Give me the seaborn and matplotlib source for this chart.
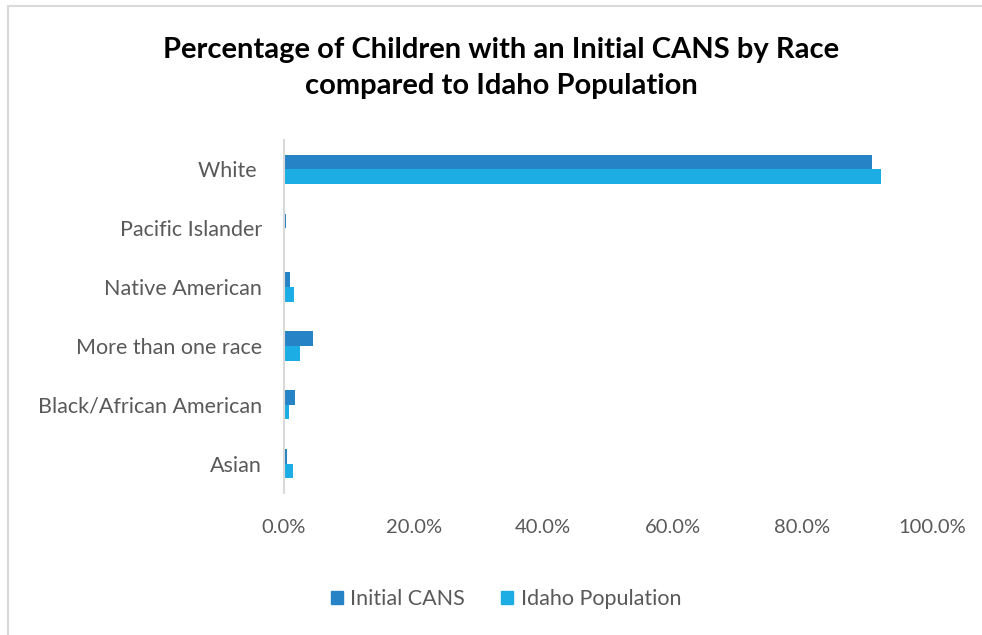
import matplotlib
matplotlib.use("Agg")
import matplotlib.pyplot as plt
import seaborn as sns
import pandas as pd
from matplotlib.ticker import PercentFormatter
from matplotlib.lines import Line2D

categories = ["White ", "Pacific Islander", "Native American", "More than one race",
              "Black/African American", "Asian"]
initial_cans = [90.8, 0.25, 0.9, 4.4, 1.7, 0.5]
idaho_pop = [92.1, 0.15, 1.5, 2.5, 0.8, 1.4]
series = ["Initial CANS", "Idaho Population"]
colors = ["#2683C6", "#1CADE4"]
xticks = [0, 20, 40, 60, 80, 100]

df = pd.DataFrame({
    "race": categories * 2,
    "value": [v / 100 for v in initial_cans] + [v / 100 for v in idaho_pop],
    "series": [series[0]] * len(categories) + [series[1]] * len(categories),
})

sns.set_theme(style="white")
plt.rcParams["font.family"] = ["Lato", "DejaVu Sans"]

fig = plt.figure(figsize=(9.82, 6.35), dpi=100)
ax = fig.add_axes([284 / 982, 1 - 493 / 635, 648 / 982, 353 / 635])

sns.barplot(data=df, y="race", x="value", hue="series", order=categories,
            hue_order=series, palette=colors, width=0.5, ax=ax, saturation=1,
            edgecolor="none")

ax.set_xlim(0, 1)
ax.set_xticks([t / 100 for t in xticks])
ax.xaxis.set_major_formatter(PercentFormatter(1.0, decimals=1))
ax.set_xlabel("")
ax.set_ylabel("")
for s in ["top", "right", "bottom"]:
    ax.spines[s].set_visible(False)
ax.spines["left"].set_color("#D9D9D9")
ax.spines["left"].set_linewidth(1.5)
ax.tick_params(axis="both", length=0, labelcolor="#595959")
ax.tick_params(axis="x", pad=19, labelsize=14.5)
ax.tick_params(axis="y", pad=16, labelsize=15.5)

ax.legend_.remove()
handles = [plt.Rectangle((0, 0), 1, 1, color=c) for c in colors]
fig.legend(handles, series, loc="center", bbox_to_anchor=(506 / 982, 1 - 599 / 635),
           ncol=2, frameon=False, fontsize=15.5, labelcolor="#595959",
           handlelength=0.55, handleheight=0.55, handletextpad=0.35, columnspacing=1.7)

fig.text(501 / 982, 1 - 68 / 635,
         "Percentage of Children with an Initial CANS by Race\ncompared to Idaho Population",
         ha="center", va="center", fontsize=21, fontweight="bold", color="black",
         linespacing=1.45)

fig.add_artist(Line2D([7.5 / 982, 7.5 / 982], [0, 1 - 5.5 / 635], transform=fig.transFigure,
                      color="#D9D9D9", lw=1.5))
fig.add_artist(Line2D([7.5 / 982, 1], [1 - 5.5 / 635, 1 - 5.5 / 635], transform=fig.transFigure,
                      color="#D9D9D9", lw=1.5))

fig.savefig("out.png", dpi=100)
